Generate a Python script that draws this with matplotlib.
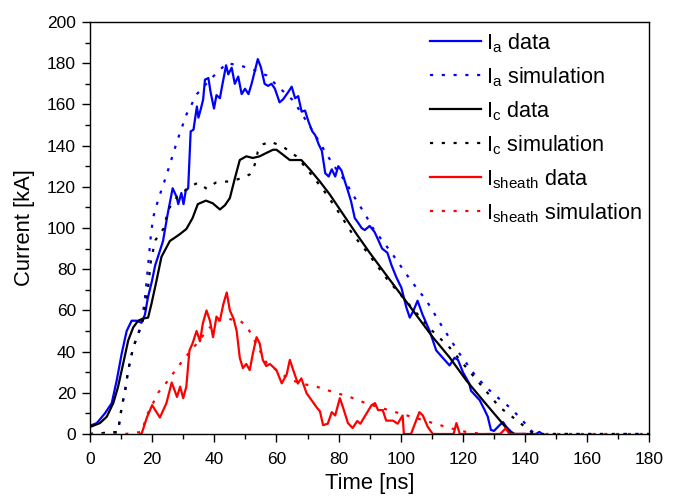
import matplotlib
matplotlib.use("Agg")
import matplotlib.pyplot as plt
from matplotlib.ticker import MultipleLocator

plt.rcParams['font.family'] = ['Liberation Sans', 'DejaVu Sans']
plt.rcParams['mathtext.fontset'] = 'custom'
plt.rcParams['mathtext.rm'] = 'Liberation Sans'
plt.rcParams['mathtext.it'] = 'Liberation Sans'

# ---- I_a data (blue solid)
ia_t = [0, 2.2, 4.8, 7, 8.6, 10.2, 11.8, 13.4, 15, 16.6, 17.7, 18.6, 19.9, 21, 22.3, 23.5, 25, 26.6,
        27.9, 28.4, 29.4, 30.1, 30.8, 31.6, 32.4, 33.3, 34.4, 34.9, 35.7, 36.4, 37, 38.1, 38.8, 39.9,
        40.7, 41.8, 42.6, 43.8, 44.5, 45.6, 46.6, 47.7, 48.8, 49.9, 51, 52, 54, 55, 56.2, 57.3, 58.4,
        59.5, 61, 62.1, 63.8, 64.9, 66, 67, 68.1, 69.2, 70.3, 71.5, 72.5, 73.6, 74.6, 75.7, 76.8, 77.8,
        78.9, 79.9, 80.9, 82, 83, 84, 85.2, 86.3, 87.4, 88.4, 90, 91.6, 92.6, 94, 95.7, 97, 98.6, 100.2,
        101.8, 102.9, 104, 105.4, 107, 109.3, 111.4, 113.5, 115.7, 117.3, 118.4, 120, 122, 122.6, 125.4,
        127, 128, 129, 130, 131.8, 132.9, 134, 135.6, 136.6, 140, 143.5, 144.6, 145.5]
ia_v = [4, 5.3, 10, 15, 26, 39, 50, 55, 55, 54, 58, 66, 74, 82, 88, 93.7, 106.8, 119.3,
        115, 111.6, 117, 111.6, 118, 119.3, 146.9, 147.7, 159, 153.6, 158, 162.3, 172, 172.8, 166, 158,
        164.5, 163, 169.6, 179, 174.6, 177.8, 170, 173.5, 165, 167.6, 165, 170, 182, 178, 170, 169, 170,
        167.6, 161, 162.4, 166, 168.6, 163, 164, 156.5, 157, 151.7, 147, 145, 140.6, 137.5, 126.6, 125, 128.5,
        125, 130, 128, 122.7, 118, 113, 104.8, 102.5, 100, 99, 101, 98, 94.7, 90, 88, 82, 76, 71,
        61.4, 56.5, 59.6, 64.7, 58, 50, 40.6, 37, 33.3, 37, 36, 30, 24.6, 21, 16.4,
        11.6, 8.4, 2, 1.5, 4.3, 5.8, 3.4, 1, 0, 0, 0, 1, 0]

# ---- I_a simulation (blue dotted)
ias_t = [0, 9, 10.2, 11.3, 12.3, 13.9, 15.5, 16.7, 17.7, 18.6, 19.5, 20.3, 22, 24.7, 28, 31, 34.4,
         38.6, 44, 48, 52.4, 56.9, 61, 65.3, 68.1, 71.7, 74.9, 78.1, 82, 84.5, 88.4, 91, 97, 103,
         108.3, 113.5, 118.9, 124.4, 129.5, 135, 138.2, 142.4, 143.5, 180]
ias_v = [0, 1, 13, 21, 31, 42, 48.5, 55, 66, 80, 95, 105, 114, 126, 142, 155, 165,
         172, 180, 179, 177, 174, 168, 162, 155.6, 147, 139, 131, 123, 116.4, 107, 100, 88, 75,
         64.7, 51.7, 39, 27.5, 19.8, 13, 8.2, 1, 0, 0]

# ---- I_c data (black solid)
ic_t = [0, 3.2, 5.4, 7.5, 9, 10.7, 12.3, 13.9, 15.5, 17, 18.7, 19.8, 21.4, 23, 25.7, 27.3, 28.9, 31,
        33, 34.7, 37.3, 39.5, 41.8, 43.4, 45, 46.6, 48.2, 50.3, 52.4, 54.6, 56.7, 58.9, 60, 62, 64.3,
        66.4, 68, 70.7, 73.9, 77.1, 81.4, 85.8, 90, 96.4, 102.9, 110.3, 115.7, 121.1, 126.4, 131.8,
        135, 136.5, 140]
ic_v = [3.4, 5.3, 8.4, 15, 22.7, 34.3, 45.4, 51.7, 55, 56, 56.5, 63.3, 74.4, 86, 93.7, 95.3, 97, 99.5,
        104.8, 111.6, 113.3, 112, 109, 111, 114.5, 124, 133, 134.8, 134, 134.8, 136.4, 138, 138, 135.7, 133,
        133, 133, 128.5, 122.7, 116.4, 106.8, 97, 88, 75, 62, 47, 37.2, 26, 16.4, 6.8,
        1, 0, 0]

# ---- I_c simulation (black dotted)
ics_t = [0, 9, 10.2, 11.3, 12.3, 13.9, 15.5, 16.7, 17.7, 18.7, 19.6, 21, 23.8, 25.2, 28, 32, 34.8,
         37.6, 40.4, 45, 48.4, 51.4, 53, 54, 55.7, 57.9, 62, 66.4, 69.6, 72.9, 76.1, 80.4, 84.5, 88.8,
         95.7, 102.6, 109.5, 115.7, 121, 126.4, 131.8, 137.2, 142, 143, 180]
ics_v = [0, 1, 13, 21, 31, 42, 48.5, 52.7, 61, 71, 84, 94, 100, 109, 115, 120, 122,
         119, 122, 122.7, 124, 126, 130.7, 137, 140.6, 142, 139.6, 134.8, 129, 122.7, 116.4, 106.8, 97, 89,
         75, 63, 51, 42, 32.4, 22.7, 13, 6.8, 1, 0, 0]

# ---- I_sheath data (red solid)
is_t = [16.2, 16.7, 18.3, 20, 22.5, 24.6, 26.3, 28, 29, 30, 31, 32, 33, 34.3, 35.4, 36.3, 37.5, 38.6,
        39.6, 40.7, 41.8, 42.9, 44, 45, 46.2, 47.2, 48.2, 49.2, 50.3, 51.4, 52.4, 53.6, 54.6, 55.6, 56.7,
        57.9, 60, 61.7, 63.3, 64.3, 65.4, 66.9, 68, 69.7, 71.3, 72.9, 74, 75, 76.5, 77.8, 78.9, 80.4,
        81.4, 83, 84.5, 86, 87, 89, 90.6, 91.7, 92.7, 94.2, 95.3, 97.5, 99, 100.6, 101, 103.3, 105, 106,
        107.1, 108.7, 110.3, 117, 117.9, 119, 132, 133.7, 135, 140]
is_v = [0, 0.5, 8, 14, 8, 15, 25, 18, 23, 17.4, 23, 40.5, 44, 50, 45, 53.6, 60, 55,
        47, 57, 55, 63, 68.7, 60, 56, 50, 37, 32, 34, 31, 39, 47, 44, 36, 33,
        34, 31, 24.6, 29, 36, 31, 24.5, 27, 19.8, 16.4, 13, 11, 4.3, 5, 10.6, 9, 17.4,
        13, 5.3, 2.9, 6.3, 5, 10, 14, 15, 11.6, 11.6, 6.5, 6.5, 5, 9, 0, 0, 6.8, 10.6,
        9, 3.4, 0, 0, 5.3, 0, 0, 2.7, 0, 0]

# ---- I_sheath simulation (red dotted)
iss_t = [0, 11.3, 16.6, 18.6, 20.3, 21.9, 24.6, 26.8, 29, 31.1, 34.4, 37.5, 40.7, 44, 48.2, 50.3,
         52.4, 54.6, 56.7, 60, 63.2, 67.5, 72.9, 78.2, 83.6, 89, 94.3, 99.7, 105, 110.4, 115.8, 121,
         126.4, 180]
iss_v = [0, 0, 1, 10, 15, 20, 25, 29.5, 34, 38, 44, 50, 55, 56, 55, 52.7,
         47, 40.6, 34.8, 31, 27.5, 24.6, 23, 20.4, 18, 14.8, 12.4, 10, 7.7, 5.3, 2.9, 1,
         0, 0]

BLUE = '#0000ff'
RED = '#ff0000'
BLACK = '#000000'
dots = (0, (1.4, 3.9))
lw = 1.6

fig = plt.figure(figsize=(6.74, 4.98), dpi=100)
ax = fig.add_axes([0.1335, 0.1285, 0.830, 0.8273])

ax.plot(ia_t, ia_v, color=BLUE, lw=lw, label=r'$\mathregular{I_a}$ data')
ax.plot(ias_t, ias_v, color=BLUE, lw=lw, ls=dots, label=r'$\mathregular{I_a}$ simulation')
ax.plot(ic_t, ic_v, color=BLACK, lw=lw, label=r'$\mathregular{I_c}$ data')
ax.plot(ics_t, ics_v, color=BLACK, lw=lw, ls=dots, label=r'$\mathregular{I_c}$ simulation')
ax.plot(is_t, is_v, color=RED, lw=lw, label=r'$\mathregular{I_{sheath}}$ data')
ax.plot(iss_t, iss_v, color=RED, lw=lw, ls=dots, label=r'$\mathregular{I_{sheath}}$ simulation')

ax.set_xlim(0, 180)
ax.set_ylim(0, 200)
ax.xaxis.set_major_locator(MultipleLocator(20))
ax.xaxis.set_minor_locator(MultipleLocator(10))
ax.yaxis.set_major_locator(MultipleLocator(20))
ax.yaxis.set_minor_locator(MultipleLocator(10))
ax.tick_params(which='both', direction='out', top=False, right=False, width=1.0, labelsize=12.5)
ax.tick_params(axis='x', which='major', length=6, pad=7)
ax.tick_params(axis='y', which='major', length=6, pad=4)
ax.tick_params(which='minor', length=3.5)
for s in ax.spines.values():
    s.set_linewidth(1.0)

ax.set_xlabel('Time [ns]', fontsize=15.8, labelpad=4)
ax.set_ylabel('Current [kA]', fontsize=15.8, labelpad=9)

ax.legend(loc='upper left', frameon=False, fontsize=15.6, handlelength=2.35,
          handletextpad=0.25, labelspacing=0.48, borderaxespad=0.0, borderpad=0.0,
          bbox_to_anchor=(0.6077, 0.978))

fig.savefig('out.png', dpi=100)
